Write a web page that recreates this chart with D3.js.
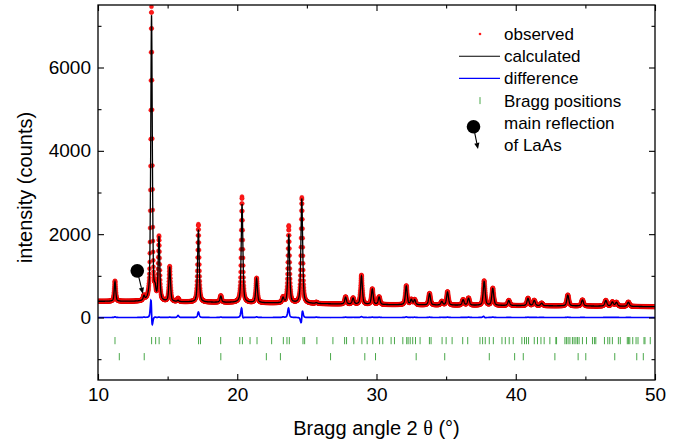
<!DOCTYPE html>
<html>
<head>
<meta charset="utf-8">
<script src="https://cdn.jsdelivr.net/npm/d3@7"></script>
<style>
  html, body { margin: 0; padding: 0; background: #fff; }
  svg { display: block; font-family: "Liberation Sans", Arial, sans-serif; }
</style>
</head>
<body>
<svg id="chart" width="685" height="442"></svg>
<script>
// Reflections seen in the pattern: position (2θ, °), observed and calculated
// intensities above background (counts), calculated position offset (°)
const peakPos   = [11.22, 13.30, 13.84, 14.10, 14.38, 15.15, 15.75, 17.21, 18.82, 20.34,
                   21.39, 23.29, 23.70, 24.64, 25.68, 27.78, 28.32, 28.92, 29.70, 30.19,
                   32.14, 32.50, 32.74, 33.81, 34.69, 35.10, 36.22, 36.61, 37.73, 38.35,
                   39.50, 40.88, 41.33, 41.86, 43.74, 44.79, 46.47, 46.94, 47.23, 48.09];
const peakObs   = [ 490,  110, 7060,  220, 1530,  840,   80, 1870,  160, 2540,
                    590,  130, 1860, 2540,   30,  175,  150,  700,  375,  185,
                    460,  125,  125,  280,   90,  325,  135,  175,  590,  415,
                    125,  180,  130,   65,  265,  148,  140,  105,   95,  105];
const peakCalc  = [ 475,  100, 6880,  210, 1520,  830,   30, 1740,  148, 2370,
                    575,  118, 1650, 2520,   20,  166,  144,  680,  366,  178,
                    446,  120,  118,  272,   84,  316,  130,  166,  572,  405,
                    120,  173,  125,   60,  258,  144,  135,  100,   91,  100];
const peakShift = [   0,    0, 0.004,   0,    0,    0,    0,    0,    0, 0.004,
                      0,    0, 0.003, -0.006,    0,    0,    0,    0,    0,    0,
                      0,    0,    0,    0,    0,    0,    0,    0, 0.003,    0,
                      0,    0,    0,    0,    0,    0,    0,    0,    0,    0];

// Refined background (2θ, counts)
const bgAngle  = [10, 12, 15, 20, 25, 30, 35, 40, 45, 50];
const bgCounts = [390, 385, 375, 360, 335, 310, 295, 285, 275, 260];

// Bragg positions (2θ): main phase and LaAs
const braggMain = [11.22, 13.85, 14.14, 14.39, 15.16, 17.22, 17.36, 18.81, 20.18, 20.37,
  20.92, 21.42, 22.47, 23.31, 23.57, 23.74, 24.72, 24.84, 25.72, 26.87, 27.71, 27.85,
  28.37, 28.95, 29.33, 29.73, 30.22, 30.45, 31.05, 31.29, 31.89, 32.17, 32.27, 32.42,
  32.60, 32.80, 33.13, 33.80, 33.92, 34.71, 35.00, 35.43, 36.19, 36.55, 37.43, 37.62,
  37.81, 38.10, 38.39, 39.01, 39.25, 39.53, 39.82, 40.44, 40.63, 40.77, 40.92, 41.33,
  41.56, 41.81, 42.04, 42.45, 42.88, 42.93, 43.53, 43.64, 43.76, 43.89, 44.07, 44.19,
  44.32, 44.43, 44.55, 44.79, 45.08, 45.51, 45.65, 45.75, 46.37, 46.61, 46.75, 46.94,
  47.37, 47.51, 48.01, 48.09, 48.19, 48.40, 48.64, 48.78, 49.21, 49.28, 49.66];
const braggLaAs = [11.53, 13.32, 18.82, 22.09, 23.10, 26.70, 29.16, 29.93, 32.85, 34.90,
  38.10, 39.92, 40.54, 42.81, 44.48, 45.03, 47.11, 48.69, 49.16];

const xTicks = [10, 20, 30, 40, 50];
const xMinorTicks = [15, 25, 35, 45];
const yTicks = [0, 2000, 4000, 6000];
const yMinorTicks = [-1000, 1000, 3000, 5000, 7000];

const legendLabels = ["observed", "calculated", "difference", "Bragg positions", "main reflection", "of LaAs"];

// ---- profile model ----
const scanStep = 0.01;
const angles = d3.range(0, 4001).map(i => 10 + i * scanStep);
const background = d3.scaleLinear().domain(bgAngle).range(bgCounts);
const fwhm = t => 0.125 + 0.0015 * (t - 10);
const eta = 0.5;
function pseudoVoigt(t, t0, h) {
  const w = fwhm(t0);
  const u = (t - t0) / w;
  return h * (eta / (1 + 4 * u * u) + (1 - eta) * Math.exp(-4 * Math.LN2 * u * u));
}
function profile(t, heights, shifts) {
  let s = background(t);
  for (let i = 0; i < peakPos.length; i++) {
    const c = peakPos[i] + (shifts ? shifts[i] : 0);
    if (Math.abs(t - c) < 3) s += pseudoVoigt(t, c, heights[i]);
  }
  return s;
}
const obs  = angles.map(t => ({ t, v: profile(t, peakObs, null) }));
const calc = angles.map(t => ({ t, v: profile(t, peakCalc, peakShift) }));
const diff = angles.map((t, i) => ({ t, v: obs[i].v - calc[i].v }));

// ---- layout ----
const svg = d3.select("#chart");
const mLeft = 98, mRight = 655, mTop = 5, mBottom = 380;
const x = d3.scaleLinear().domain([10, 50]).range([mLeft, mRight]);
const y = d3.scaleLinear().domain([-1500, 7500]).range([mBottom, mTop]);

const plot = svg.append("g");
svg.append("clipPath").attr("id", "clip")
  .append("rect").attr("x", mLeft).attr("y", mTop).attr("width", mRight - mLeft).attr("height", mBottom - mTop);
const layer = plot.append("g").attr("clip-path", "url(#clip)");

// observed points
layer.append("g").selectAll("circle").data(obs).join("circle")
  .attr("cx", d => x(d.t)).attr("cy", d => y(d.v)).attr("r", 2.1)
  .attr("fill", "#ff1a1a").attr("stroke", "#e00000").attr("stroke-width", 0.3);

const line = d3.line().x(d => x(d.t)).y(d => y(d.v));
layer.append("path").datum(calc).attr("d", line)
  .attr("fill", "none").attr("stroke", "#000").attr("stroke-width", 1.3);
layer.append("path").datum(diff).attr("d", line)
  .attr("fill", "none").attr("stroke", "#0000ff").attr("stroke-width", 1.7);

// Bragg position markers
const tickGreen = "#4aa84a";
function braggRow(list, level) {
  layer.append("g").selectAll("line").data(list).join("line")
    .attr("x1", d => x(d)).attr("x2", d => x(d))
    .attr("y1", y(level) - 3.6).attr("y2", y(level) + 3.6)
    .attr("stroke", tickGreen).attr("stroke-width", 1);
}
braggRow(braggMain, -555);
braggRow(braggLaAs, -940);

// LaAs main reflection marker
function pointer(g, cx, cy, tx, ty) {
  g.append("circle").attr("cx", cx).attr("cy", cy).attr("r", 6.8).attr("fill", "#000");
  const ang = Math.atan2(ty - cy, tx - cx);
  const hx = tx - 6 * Math.cos(ang), hy = ty - 6 * Math.sin(ang);
  g.append("line").attr("x1", cx).attr("y1", cy).attr("x2", hx).attr("y2", hy)
    .attr("stroke", "#000").attr("stroke-width", 1.1);
  const px = -Math.sin(ang) * 2.6, py = Math.cos(ang) * 2.6;
  g.append("path").attr("d", `M${tx},${ty}L${hx + px},${hy + py}L${hx - px},${hy - py}Z`).attr("fill", "#000");
}
const markT = braggLaAs[1];
pointer(plot, x(12.82), y(1120), x(markT - 0.1), y(background(markT) + 190));

// ---- axes ----
const fmt = d3.format("d");
function styleAxis(g) {
  g.select(".domain").remove();
  g.selectAll("line").attr("stroke", "#000").attr("stroke-width", 1.1);
  g.selectAll("text").attr("font-size", 19).attr("fill", "#000")
    .attr("font-family", '"Liberation Sans", Arial, sans-serif');
}
svg.append("g").attr("transform", `translate(0,${mBottom})`)
  .call(d3.axisBottom(x).tickValues(xTicks).tickSize(-6).tickPadding(8).tickFormat(fmt)).call(styleAxis);
svg.append("g").attr("transform", `translate(0,${mBottom})`)
  .call(d3.axisBottom(x).tickValues(xMinorTicks).tickSize(-3.5).tickFormat("")).call(styleAxis);
svg.append("g").attr("transform", `translate(0,${mTop})`)
  .call(d3.axisTop(x).tickValues(xTicks).tickSize(-6).tickFormat("")).call(styleAxis);
svg.append("g").attr("transform", `translate(0,${mTop})`)
  .call(d3.axisTop(x).tickValues(xMinorTicks).tickSize(-3.5).tickFormat("")).call(styleAxis);
svg.append("g").attr("transform", `translate(${mLeft},0)`)
  .call(d3.axisLeft(y).tickValues(yTicks).tickSize(-6).tickPadding(7).tickFormat(fmt)).call(styleAxis);
svg.append("g").attr("transform", `translate(${mLeft},0)`)
  .call(d3.axisLeft(y).tickValues(yMinorTicks).tickSize(-3.5).tickFormat("")).call(styleAxis);
svg.append("g").attr("transform", `translate(${mRight},0)`)
  .call(d3.axisRight(y).tickValues(yTicks).tickSize(-6).tickFormat("")).call(styleAxis);
svg.append("g").attr("transform", `translate(${mRight},0)`)
  .call(d3.axisRight(y).tickValues(yMinorTicks).tickSize(-3.5).tickFormat("")).call(styleAxis);

svg.append("rect").attr("x", mLeft).attr("y", mTop).attr("width", mRight - mLeft).attr("height", mBottom - mTop)
  .attr("fill", "none").attr("stroke", "#000").attr("stroke-width", 1.3);

// axis titles
svg.append("text").attr("transform", `translate(25,${(mTop + mBottom) / 2 - 5}) rotate(-90)`)
  .attr("text-anchor", "middle").attr("dy", "0.35em").attr("font-size", 20).text("intensity (counts)");
const xt = svg.append("text").attr("x", (mLeft + mRight) / 2).attr("y", 435)
  .attr("text-anchor", "middle").attr("font-size", 20);
xt.append("tspan").text("Bragg angle 2 ");
xt.append("tspan").attr("font-family", '"Liberation Serif", "Times New Roman", serif').text("θ");
xt.append("tspan").text(" (°)");

// ---- legend ----
const lg = svg.append("g");
const lx = 504, ly0 = 34, dy = 22.2;
lg.selectAll("text").data(legendLabels).join("text")
  .attr("x", lx).attr("y", (d, i) => ly0 + i * dy).attr("dy", "0.35em")
  .attr("font-size", 17).attr("fill", "#000").text(d => d);
lg.append("circle").attr("cx", 480).attr("cy", ly0).attr("r", 1.3).attr("fill", "#ff1a1a");
lg.append("line").attr("x1", 459).attr("x2", 500).attr("y1", ly0 + dy).attr("y2", ly0 + dy)
  .attr("stroke", "#000").attr("stroke-width", 1.1);
lg.append("line").attr("x1", 459).attr("x2", 500).attr("y1", ly0 + 2 * dy).attr("y2", ly0 + 2 * dy)
  .attr("stroke", "#0000ff").attr("stroke-width", 1.1);
lg.append("line").attr("x1", 480).attr("x2", 480).attr("y1", ly0 + 3 * dy - 3.5).attr("y2", ly0 + 3 * dy + 3.5)
  .attr("stroke", tickGreen).attr("stroke-width", 1);
pointer(lg, 473.5, ly0 + 4 * dy + 4, 478, ly0 + 5 * dy + 4);
</script>
</body>
</html>
